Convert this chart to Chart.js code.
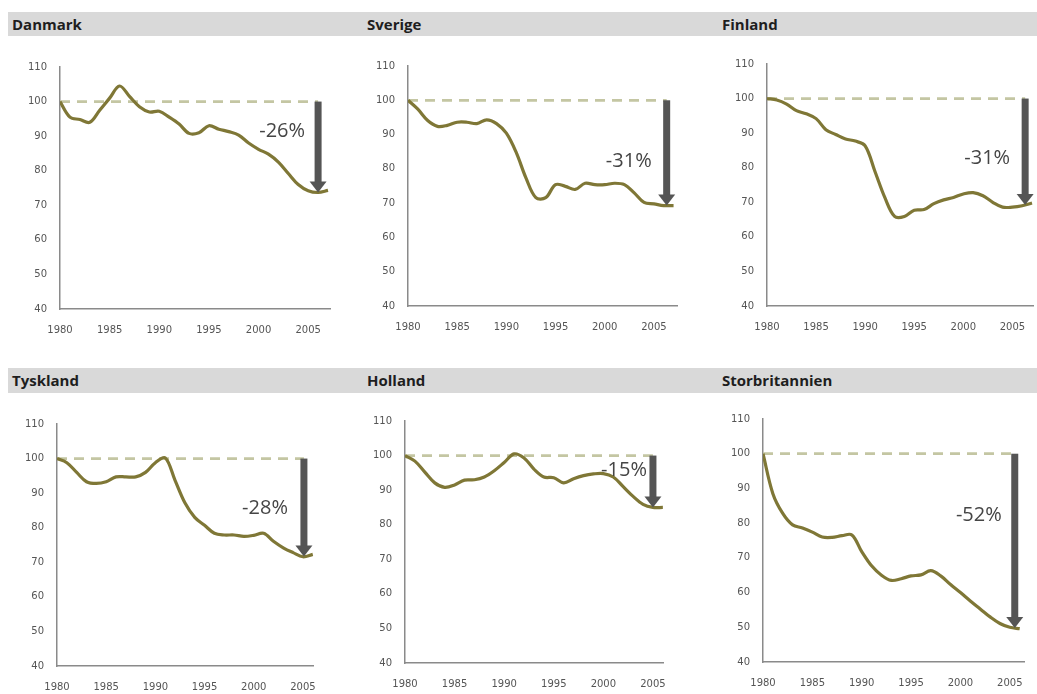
<!DOCTYPE html>
<html>
<head>
<meta charset="utf-8">
<script src="https://cdn.jsdelivr.net/npm/chart.js@4.4.1/dist/chart.umd.min.js"></script>
<style>
  html, body { margin: 0; padding: 0; background: #fff; }
  #page { position: relative; width: 1037px; height: 694px; overflow: hidden; }
  .bar { position: absolute; left: 8px; width: 1029px; background: #d9d9d9; }
  .title { position: absolute; font: bold 15px "Open Sans", sans-serif; color: #1e1e1e; line-height: 20px; }
  canvas { position: absolute; }
</style>
</head>
<body>
<div id="page">
  <div class="bar" style="top:12px;height:24px"></div>
  <div class="bar" style="top:368px;height:25px"></div>
</div>
<script>
// index, 1980 = 100
const years = [1980, 1981, 1982, 1983, 1984, 1985, 1986, 1987, 1988, 1989,
               1990, 1991, 1992, 1993, 1994, 1995, 1996, 1997, 1998, 1999,
               2000, 2001, 2002, 2003, 2004, 2005, 2006, 2007];

const danmark  = [100, 95.5, 94.8, 94, 97.5, 101, 104.5, 101.5, 98.5, 97, 97.2, 95.5, 93.5, 90.8,
                  91, 93, 92, 91.3, 90.3, 88, 86.2, 84.8, 82.5, 79.2, 76, 74.2, 73.7, 74.3];
const sverige  = [100, 97.4, 94.1, 92.4, 92.7, 93.6, 93.6, 93.2, 94.3, 93.2, 90.4, 84.8, 77.3, 71.6,
                  71.6, 75.4, 74.9, 74, 75.8, 75.4, 75.4, 75.8, 75.4, 73, 70.2, 69.8, 69.3, 69.3];
const finland  = [100, 99.6, 98.4, 96.5, 95.6, 94.2, 91, 89.6, 88.3, 87.7, 86.3, 78.9, 71.4, 65.9,
                  65.9, 67.7, 67.9, 69.6, 70.7, 71.4, 72.4, 72.8, 71.9, 70, 68.6, 68.6, 69, 69.8];
const tyskland = [100, 98.8, 96, 93.3, 92.8, 93.3, 94.7, 94.7, 94.7, 96, 98.8, 100.2, 93.7, 87.2,
                  83, 80.7, 78.4, 77.9, 77.9, 77.5, 77.8, 78.4, 76.1, 74.2, 72.8, 71.6, 72.3];
const holland  = [100, 98.4, 95.2, 92.1, 90.8, 91.5, 92.9, 93, 93.8, 95.6, 98, 100.5, 99.3, 96.1,
                  93.8, 93.6, 92.1, 93.3, 94.2, 94.7, 94.8, 93.8, 91, 88.2, 85.9, 85, 85];
const storbritannien = [100, 88.5, 82.8, 79.5, 78.6, 77.4, 76, 75.9, 76.4, 76.6, 71.8, 67.7, 65, 63.5,
                  64, 64.8, 65.1, 66.3, 64.8, 62.3, 60, 57.6, 55.3, 53, 51.1, 50, 49.6];

const countries = ['Danmark', 'Sverige', 'Finland', 'Tyskland', 'Holland', 'Storbritannien'];
const series = [danmark, sverige, finland, tyskland, holland, storbritannien];
const drops = ['-26%', '-31%', '-31%', '-28%', '-15%', '-52%'];
const BASE = 100;

// where each small chart sits on the page
const panels = [
  { titleX: 12,  titleY: 14,  axisX: 60,  xEnd: 330,  top: 58,  bottom: 309, xMax: 2007.2,  arrowYear: 2006.0, labelAt: 91.3, gap: 13 },
  { titleX: 367, titleY: 14,  axisX: 408, xEnd: 677,  top: 57,  bottom: 306, xMax: 2007.35, arrowYear: 2006.3, labelAt: 82.3, gap: 15 },
  { titleX: 722, titleY: 14,  axisX: 767, xEnd: 1033, top: 55,  bottom: 306, xMax: 2007.1,  arrowYear: 2006.3, labelAt: 82.8, gap: 15 },
  { titleX: 12,  titleY: 370, axisX: 57,  xEnd: 323,  top: 415, bottom: 666, xMax: 2006.1,  arrowYear: 2005.1, labelAt: 85.6, gap: 16 },
  { titleX: 367, titleY: 370, axisX: 405, xEnd: 673,  top: 412, bottom: 663, xMax: 2006.1,  arrowYear: 2005.0, labelAt: 95.8, gap: 6 },
  { titleX: 722, titleY: 370, axisX: 763, xEnd: 1030, top: 410, bottom: 662, xMax: 2006.5,  arrowYear: 2005.5, labelAt: 82.2, gap: 13 }
];

const Y_AXIS_W = 44;
const X_AXIS_H = 38;
const PAD_TOP = 10;
const PAD_RIGHT = 8;

// value of the series at a (fractional) year, so the arrow lands on the line
function valueAt(values, year) {
  let i = Math.floor(year - years[0]);
  if (i >= values.length - 1) return values[values.length - 1];
  let f = year - years[i];
  return values[i] + (values[i + 1] - values[i]) * f;
}

const dropArrow = {
  id: 'dropArrow',
  afterDatasetsDraw(chart, args, opts) {
    const { ctx, scales: { x, y } } = chart;
    const ax = x.getPixelForValue(opts.year);
    const y0 = y.getPixelForValue(BASE);
    const y1 = y.getPixelForValue(opts.end);
    ctx.save();
    ctx.fillStyle = '#555555';
    ctx.fillRect(ax - 3.5, y0, 7, y1 - y0 - 9);
    ctx.beginPath();
    ctx.moveTo(ax - 8.5, y1 - 11);
    ctx.lineTo(ax + 8.5, y1 - 11);
    ctx.lineTo(ax, y1);
    ctx.closePath();
    ctx.fill();

    ctx.font = '20px "Open Sans", sans-serif';
    ctx.fillStyle = '#454545';
    ctx.textAlign = 'right';
    ctx.textBaseline = 'middle';
    ctx.fillText(opts.text, ax - opts.gap, y.getPixelForValue(opts.labelAt));
    ctx.restore();
  }
};

const page = document.getElementById('page');

panels.forEach((p, k) => {
  const title = document.createElement('div');
  title.className = 'title';
  title.style.left = p.titleX + 'px';
  title.style.top = p.titleY + 'px';
  title.textContent = countries[k];
  page.appendChild(title);

  const w = p.xEnd - p.axisX + Y_AXIS_W + PAD_RIGHT;
  const h = p.bottom - p.top + PAD_TOP + X_AXIS_H;
  const canvas = document.createElement('canvas');
  canvas.width = w;
  canvas.height = h;
  canvas.style.width = w + 'px';
  canvas.style.height = h + 'px';
  canvas.style.left = (p.axisX - Y_AXIS_W) + 'px';
  canvas.style.top = (p.top - PAD_TOP) + 'px';
  page.appendChild(canvas);

  const values = series[k];

  new Chart(canvas, {
    type: 'line',
    data: {
      datasets: [
        {
          data: values.map((v, i) => ({ x: years[i], y: v })),
          borderColor: '#7f7736',
          borderWidth: 3.2,
          pointRadius: 0,
          tension: 0.35
        },
        {
          data: [{ x: years[0], y: BASE }, { x: p.arrowYear, y: BASE }],
          borderColor: '#c4c6a3',
          borderWidth: 2.8,
          borderDash: [10, 7],
          pointRadius: 0,
          tension: 0
        }
      ]
    },
    options: {
      responsive: false,
      animation: false,
      devicePixelRatio: 1,
      layout: { padding: { top: PAD_TOP, right: PAD_RIGHT, left: 0, bottom: 0 } },
      plugins: {
        legend: { display: false },
        tooltip: { enabled: false },
        dropArrow: {
          year: p.arrowYear,
          end: valueAt(values, p.arrowYear),
          text: drops[k],
          labelAt: p.labelAt,
          gap: p.gap
        }
      },
      scales: {
        x: {
          type: 'linear',
          min: years[0],
          max: p.xMax,
          afterFit: (s) => { s.height = X_AXIS_H; },
          grid: { display: false, drawTicks: false },
          border: { display: true, color: '#8a8a8a', width: 1.5 },
          ticks: {
            stepSize: 5,
            includeBounds: false,
            maxRotation: 0,
            padding: 15,
            color: '#555',
            font: { family: 'DejaVu Sans', size: 10 },
            callback: (v) => (v % 5 === 0 ? String(v) : '')
          }
        },
        y: {
          min: 40,
          max: 110,
          afterFit: (s) => { s.width = Y_AXIS_W; },
          grid: { display: false, drawTicks: false },
          border: { display: true, color: '#8a8a8a', width: 1.5 },
          ticks: {
            stepSize: 10,
            padding: 13,
            color: '#555',
            font: { family: 'DejaVu Sans', size: 10 }
          }
        }
      }
    },
    plugins: [dropArrow]
  });
});
</script>
</body>
</html>
